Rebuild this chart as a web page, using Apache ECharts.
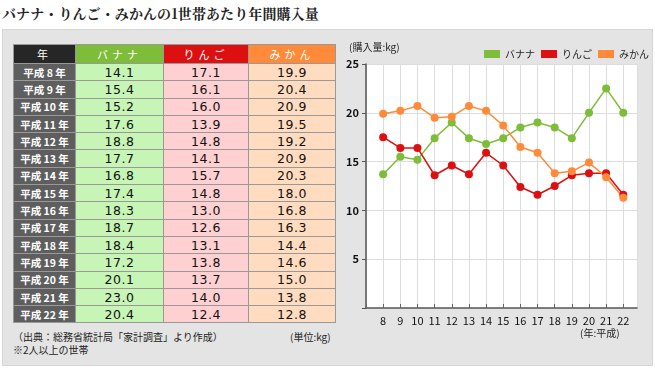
<!DOCTYPE html>
<html><head><meta charset="utf-8">
<script src="https://cdn.jsdelivr.net/npm/echarts@6/dist/echarts.min.js"></script>
<style>
html,body{margin:0;padding:0;background:#fff;width:655px;height:368px;overflow:hidden;font-family:"Noto Sans CJK JP","DejaVu Sans",sans-serif;}
#title{position:absolute;left:2px;top:3px;font-family:"Noto Serif CJK JP","Noto Sans CJK JP",serif;font-size:14px;font-weight:bold;color:#222;letter-spacing:0.1px;white-space:nowrap;}
#panel{position:absolute;left:2px;top:29px;width:649px;height:335px;background:#e4e4e4;border:1px solid #d6d6d6;}
#tbl{position:absolute;left:13px;top:44px;border-collapse:collapse;table-layout:fixed;}
#tbl td,#tbl th{border:1px solid #999;padding:0;text-align:center;vertical-align:middle;}
#tbl th{height:18px;color:#fff;font-size:11px;font-weight:normal;letter-spacing:4px;}
#tbl td{height:16.3px;font-size:12.5px;color:#111;font-family:"DejaVu Sans",sans-serif;letter-spacing:0.5px;}
#tbl td.y{background:#5e5e5e;color:#fff;font-size:10.5px;font-weight:bold;font-family:"Noto Sans CJK JP",sans-serif;letter-spacing:0;}
.note{position:absolute;font-size:10px;color:#222;white-space:nowrap;}
#chart{position:absolute;left:0;top:0;width:655px;height:368px;}
</style></head>
<body>
<div id="title">バナナ・りんご・みかんの1世帯あたり年間購入量</div>
<div id="panel"></div>
<table id="tbl"></table>
<div class="note" style="left:13px;top:329px;">（出典：総務省統計局「家計調査」より作成）</div>
<div class="note" style="left:13px;top:342px;">※2人以上の世帯</div>
<div class="note" style="left:290px;top:329px;">(単位:kg)</div>
<div id="chart"></div>
<script>
// Table data
const headers = ['年', 'バナナ', 'りんご', 'みかん'];
const rowLabels = ['平成 8 年','平成 9 年','平成 10 年','平成 11 年','平成 12 年','平成 13 年','平成 14 年','平成 15 年','平成 16 年','平成 17 年','平成 18 年','平成 19 年','平成 20 年','平成 21 年','平成 22 年'];
const tableBanana = ['14.1','15.4','15.2','17.6','18.8','17.7','16.8','17.4','18.3','18.7','18.4','17.2','20.1','23.0','20.4'];
const tableApple  = ['17.1','16.1','16.0','13.9','14.8','14.1','15.7','14.8','13.0','12.6','13.1','13.8','13.7','14.0','12.4'];
const tableMikan  = ['19.9','20.4','20.9','19.5','19.2','20.9','20.3','18.0','16.8','16.3','14.4','14.6','15.0','13.8','12.8'];

// Chart data (as plotted)
const years = [8,9,10,11,12,13,14,15,16,17,18,19,20,21,22];
const chartBanana = [13.7,15.5,15.2,17.4,19.0,17.4,16.8,17.4,18.5,19.0,18.5,17.4,20.0,22.5,20.0];
const chartApple  = [17.5,16.4,16.4,13.6,14.6,13.7,15.9,14.6,12.4,11.6,12.5,13.6,13.8,13.8,11.6];
const chartMikan  = [19.9,20.2,20.7,19.5,19.6,20.7,20.2,18.7,16.5,15.9,13.8,14.0,14.9,13.4,11.3];
const yTicks = [0,5,10,15,20,25];

const colW = [62, 88, 85, 87];
const headBg = ['#262626', '#7dbd3a', '#dc1010', '#ff8a3a'];
const cellBg = [null, '#c6f5b6', '#ffd0d2', '#ffdcc0'];

const tbl = document.getElementById('tbl');
let html = '<colgroup>' + colW.map(w => '<col style="width:' + w + 'px">').join('') + '</colgroup><tr>';
headers.forEach((h, i) => { html += '<th style="background:' + headBg[i] + '">' + h + '</th>'; });
html += '</tr>';
rowLabels.forEach((r, i) => {
  html += '<tr><td class="y">' + r + '</td>' +
    '<td style="background:' + cellBg[1] + '">' + tableBanana[i] + '</td>' +
    '<td style="background:' + cellBg[2] + '">' + tableApple[i] + '</td>' +
    '<td style="background:' + cellBg[3] + '">' + tableMikan[i] + '</td></tr>';
});
tbl.innerHTML = html;

const chart = echarts.init(document.getElementById('chart'), null, {renderer: 'canvas'});
const pairs = arr => years.map((y, i) => [y, arr[i]]);
const colors = ['#7dbd3a', '#dc1010', '#ff8a3a'];
const font = '"Noto Sans CJK JP", sans-serif';
chart.setOption({
  animation: false,
  textStyle: {fontFamily: font},
  color: colors,
  grid: {left: 366, top: 64, width: 271, height: 244, show: true, backgroundColor: '#fff', borderWidth: 0, containLabel: false},
  legend: {
    left: 479, top: 44, itemWidth: 16, itemHeight: 8, itemGap: 6, icon: 'rect',
    textStyle: {fontSize: 10, color: '#222', padding: [0, 0, 0, 0]},
    data: ['バナナ', 'りんご', 'みかん']
  },
  graphic: [
    {type: 'text', left: 349, top: 42, style: {text: '(購入量:kg)', fontSize: 10, fill: '#222', fontFamily: font}},
    {type: 'text', left: 580, top: 328, style: {text: '(年:平成)', fontSize: 10, fill: '#222', fontFamily: font}}
  ],
  xAxis: {
    type: 'value', min: 7, max: 22.8, interval: 1,
    axisLine: {show: true, lineStyle: {color: '#555', width: 1.5}},
    axisTick: {show: true, inside: true, length: 4, lineStyle: {color: '#666'}},
    axisLabel: {color: '#111', fontSize: 11, margin: 7, showMaxLabel: false,
      formatter: v => (years.indexOf(v) >= 0 ? String(v) : '')},
    splitLine: {show: true, lineStyle: {color: '#dcdcdc', width: 1}}
  },
  yAxis: {
    type: 'value', min: yTicks[0], max: yTicks[yTicks.length - 1], interval: 5,
    axisLine: {show: true, lineStyle: {color: '#555', width: 1.5}},
    axisTick: {show: true, length: 4, lineStyle: {color: '#555'}},
    axisLabel: {color: '#111', fontSize: 11, fontWeight: 'bold', margin: 7,
      formatter: v => (v === 0 ? '' : String(v))},
    splitLine: {show: true, lineStyle: {color: '#dcdcdc', width: 1}}
  },
  series: [
    {name: 'バナナ', type: 'line', data: pairs(chartBanana), symbol: 'circle', symbolSize: 8, lineStyle: {width: 1.5}},
    {name: 'りんご', type: 'line', data: pairs(chartApple), symbol: 'circle', symbolSize: 8, lineStyle: {width: 1.5}},
    {name: 'みかん', type: 'line', data: pairs(chartMikan), symbol: 'circle', symbolSize: 8, lineStyle: {width: 1.5}}
  ]
});
</script>
</body></html>
